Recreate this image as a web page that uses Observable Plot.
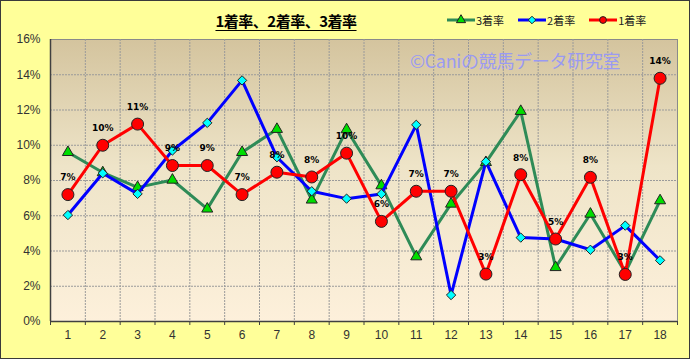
<!DOCTYPE html>
<html><head><meta charset="utf-8">
<script src="https://cdn.jsdelivr.net/npm/d3@7"></script>
<script src="https://cdn.jsdelivr.net/npm/@observablehq/plot@0.6"></script>
<style>
body{margin:0;background:#fff;}
#wrap{position:relative;width:690px;height:359px;background:#FFFF99;overflow:hidden;font-family:"Liberation Sans","Noto Sans CJK JP",sans-serif;}
#chart{position:absolute;left:0;top:0;}
#border{position:absolute;left:0;top:0;width:690px;height:359px;box-sizing:border-box;border:1px solid #3a3a3a;pointer-events:none;}
#title{position:absolute;left:186px;width:200px;top:10px;text-align:center;font-family:"Noto Sans CJK JP",sans-serif;font-weight:bold;font-size:15px;color:#000;text-decoration:underline;text-underline-offset:3px;letter-spacing:-0.5px;}
#legend{position:absolute;left:447px;top:12px;display:flex;gap:14px;font-family:"Noto Sans CJK JP",sans-serif;font-size:11px;color:#222;}
#legend .item{display:flex;align-items:center;gap:1px;}
#legend svg{display:block;}
#wm{position:absolute;left:410px;top:47px;font-family:"Noto Sans CJK JP",sans-serif;font-size:18px;color:#9a9af2;white-space:nowrap;letter-spacing:-0.3px;}
</style></head>
<body>
<div id="wrap">
  <div id="chart"></div>
  <div id="title">1着率、2着率、3着率</div>
  <div id="legend"></div>
  <div id="wm">©Caniの競馬データ研究室</div>
  <div id="border"></div>
</div>
<script>
// ---- data ----
const races = [1,2,3,4,5,6,7,8,9,10,11,12,13,14,15,16,17,18];
const rate1 = [7.2,10.0,11.2,8.85,8.85,7.2,8.47,8.2,9.55,5.68,7.39,7.39,2.69,8.33,4.68,8.18,2.67,13.8];
const rate2 = [6.04,8.41,7.24,9.7,11.27,13.68,9.32,7.39,6.97,7.24,11.16,1.5,9.07,4.76,4.68,4.07,5.44,3.47];
const rate3 = [9.6,8.45,7.61,8.03,6.39,9.6,10.91,6.9,10.89,7.71,3.68,6.67,9.03,11.93,3.07,6.1,2.78,6.86];
const rate1Labels = ["7%","10%","11%","9%","9%","7%","8%","8%","10%","6%","7%","7%","3%","8%","5%","8%","3%","14%"];
const yTicks = [0,2,4,6,8,10,12,14,16];
const seriesNames = ["3着率","2着率","1着率"];

// ---- build tables ----
const series = [
  {name: seriesNames[0], values: rate3, line: "#2E8B57", fill: "#00DD00", symbol: "triangle", r: 4.1},
  {name: seriesNames[1], values: rate2, line: "#0000FF", fill: "#00FFFF", symbol: "diamond2", r: 4.2},
  {name: seriesNames[2], values: rate1, line: "#FF0000", fill: "#FF0000", symbol: "circle", r: 6}
];
const tables = series.map(s => races.map((r, i) => ({race: r, value: s.values[i]})));
const labelData = races.map((r, i) => ({race: r, value: rate1[i], label: rate1Labels[i]}));
const bounds = [0.5, ...races.map(r => r + 0.5)];
const innerBounds = bounds.slice(1, -1);

const marks = [
  Plot.frame({fill: "url(#bggrad)", stroke: "#8a8a8a"}),
  Plot.ruleY(yTicks.slice(1, -1), {stroke: "#9a9a9a", strokeDasharray: "2,1"}),
  Plot.ruleX(innerBounds, {stroke: "#9a9a9a", strokeDasharray: "2,1"}),
  Plot.ruleY([0], {stroke: "#404040", strokeWidth: 1.5}),
  Plot.ruleX([0.5], {stroke: "#404040", strokeWidth: 1.5}),
  Plot.axisX(bounds, {tickSize: 4, tickFormat: () => "", stroke: "#404040"}),
  Plot.axisX(races, {tickSize: 0, tickPadding: 9, tickFormat: d => String(d), fontSize: 12, fill: "#333"}),
  Plot.axisY(yTicks, {tickSize: 0, tickPadding: 10, tickFormat: d => d + "%", fontSize: 12, fill: "#333"})
];
series.forEach((s, k) => {
  marks.push(Plot.line(tables[k], {x: "race", y: "value", stroke: s.line, strokeWidth: 3}));
  marks.push(Plot.dot(tables[k], {x: "race", y: "value", symbol: () => s.symbol, r: s.r, fill: s.fill, stroke: "#222", strokeWidth: 1}));
});
marks.push(Plot.text(labelData, {x: "race", y: "value", text: "label", dy: -17, fontWeight: "bold", fontSize: 9, fill: "#000", fontFamily: "DejaVu Sans"}));

const chart = Plot.plot({
  width: 690, height: 359,
  marginLeft: 50, marginRight: 13, marginTop: 39, marginBottom: 38,
  style: {background: "transparent", fontFamily: "Liberation Sans, sans-serif", fontSize: "12px", color: "#333", overflow: "visible"},
  x: {domain: [0.5, 18.5], label: null, axis: null},
  y: {domain: [0, 16], label: null, axis: null},
  symbol: {type: "identity"},
  marks
});
const defs = document.createElementNS("http://www.w3.org/2000/svg", "defs");
defs.innerHTML = '<linearGradient id="bggrad" x1="0" y1="0" x2="0" y2="1"><stop offset="0" stop-color="#D4C49E"/><stop offset="0.45" stop-color="#EEE4C8"/><stop offset="1" stop-color="#FDF0DB"/></linearGradient>';
chart.insertBefore(defs, chart.firstChild);
document.getElementById("chart").appendChild(chart);

// ---- legend ----
const legend = document.getElementById("legend");
series.forEach(s => {
  const item = document.createElement("div");
  item.className = "item";
  const sw = d3.create("svg").attr("width", 28).attr("height", 12);
  sw.append("line").attr("x1", 0).attr("x2", 28).attr("y1", 6).attr("y2", 6).attr("stroke", s.line).attr("stroke-width", 3);
  const sym = {triangle: d3.symbolTriangle, diamond2: d3.symbolDiamond2, circle: d3.symbolCircle}[s.symbol];
  sw.append("path").attr("transform", "translate(14,6)").attr("d", d3.symbol(sym, Math.PI * 3.4 * 3.4)())
    .attr("fill", s.fill).attr("stroke", "#222").attr("stroke-width", 1);
  item.appendChild(sw.node());
  const t = document.createElement("span");
  t.textContent = s.name;
  item.appendChild(t);
  legend.appendChild(item);
});
</script>
</body></html>
